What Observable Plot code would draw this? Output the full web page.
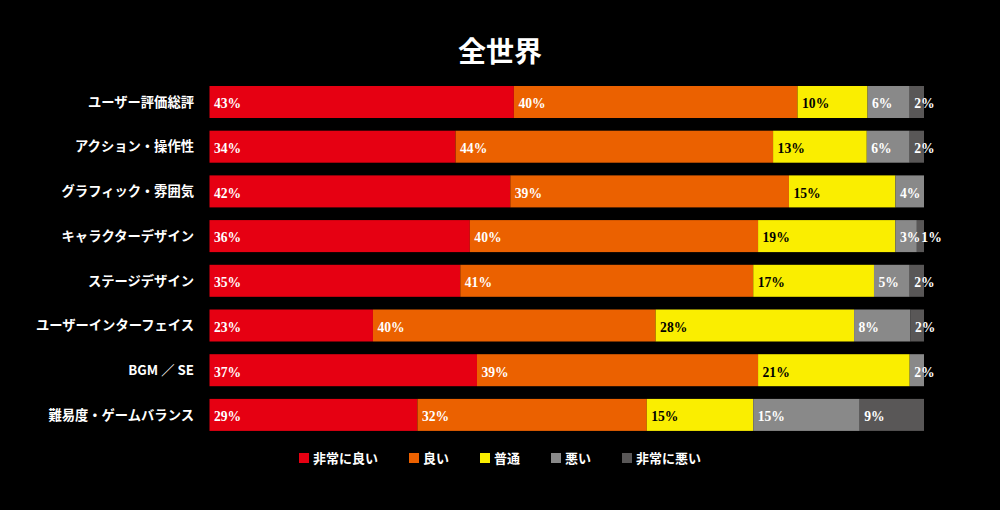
<!DOCTYPE html>
<html><head><meta charset="utf-8">
<script src="https://cdn.jsdelivr.net/npm/d3@7"></script>
<script src="https://cdn.jsdelivr.net/npm/@observablehq/plot@0.6"></script>
<style>
html,body{margin:0;padding:0;background:#000;width:1000px;height:510px;overflow:hidden}
#title{height:72px;box-sizing:border-box;padding-top:35px;text-align:center;color:#fff;font:bold 28px/30px "Noto Sans CJK JP",serif;margin:0}
#chart svg{display:block}
#legend{display:flex;justify-content:center;gap:31px;padding-top:6px;color:#fff;font:bold 13px/16px "Noto Sans CJK JP",sans-serif}
#legend .item{display:flex;align-items:center}
#legend .sw{width:10px;height:10px;margin-right:4px}
</style>
</head><body>
<div id="title">全世界</div>
<div id="chart"></div>
<div id="legend"></div>
<script>
const categories = ["ユーザー評価総評","アクション・操作性","グラフィック・雰囲気","キャラクターデザイン","ステージデザイン","ユーザーインターフェイス","BGM ／ SE","難易度・ゲームバランス"];
const series = ["非常に良い","良い","普通","悪い","非常に悪い"];
const colors = ["#e60012","#eb6100","#faee00","#898989","#595757"];
const veryGood = [42.6,34.4,42.1,36.4,35.1,22.9,37.4,29.1];
const good     = [39.7,44.4,39.0,40.3,41.0,39.6,39.3,32.1];
const normal   = [9.8,13.1,14.9,19.2,16.9,27.8,21.2,14.9];
const bad      = [5.9,6.0,4.0,3.0,5.0,7.9,2.0,14.9];
const veryBad  = [2.0,2.0,0,1.0,2.0,1.9,0,9.0];

const seriesValues = [veryGood, good, normal, bad, veryBad];
const table = [];
categories.forEach((c, i) => {
  const total = d3.sum(seriesValues, v => v[i]);
  let acc = 0;
  series.forEach((s, j) => {
    const v = seriesValues[j][i];
    if (v > 0) {
      table.push({category: c, series: s, value: v, x1: acc / total * 100, x2: (acc + v) / total * 100, label: Math.round(v) + "%"});
    }
    acc += v;
  });
});

const labelFont = {fontFamily: "'Liberation Serif', 'DejaVu Serif', serif", fontSize: 13.6, fontWeight: "bold", dy: 1.5};

const chart = Plot.plot({
  width: 1000,
  height: 372,
  marginLeft: 209.5,
  marginRight: 76,
  marginTop: 7.65,
  marginBottom: 6.75,
  style: {background: "#000", color: "#fff"},
  x: {domain: [0, 100], axis: null},
  y: {domain: categories, paddingInner: 0.284, paddingOuter: 0.142, round: false, label: null, axis: null},
  color: {domain: series, range: colors},
  marks: [
    Plot.barX(table, {x1: "x1", x2: "x2", y: "category", fill: "series"}),
    Plot.text(table.filter(d => d.series !== "普通"), {x: "x1", y: "category", text: "label", textAnchor: "start", dx: 4, fill: "#fff", ...labelFont}),
    Plot.text(table.filter(d => d.series === "普通"), {x: "x1", y: "category", text: "label", textAnchor: "start", dx: 4, fill: "#000", ...labelFont}),
    Plot.axisY({tickSize: 0, tickPadding: 16, label: null, fontSize: 13.3, fontWeight: "bold", fill: "#fff", fontFamily: "'Noto Sans CJK JP', sans-serif"})
  ]
});
document.getElementById("chart").appendChild(chart);

const legend = document.getElementById("legend");
series.forEach((s, j) => {
  const item = document.createElement("div");
  item.className = "item";
  const sw = document.createElement("span");
  sw.className = "sw";
  sw.style.background = colors[j];
  const t = document.createElement("span");
  t.textContent = s;
  item.appendChild(sw);
  item.appendChild(t);
  legend.appendChild(item);
});
</script>
</body></html>
